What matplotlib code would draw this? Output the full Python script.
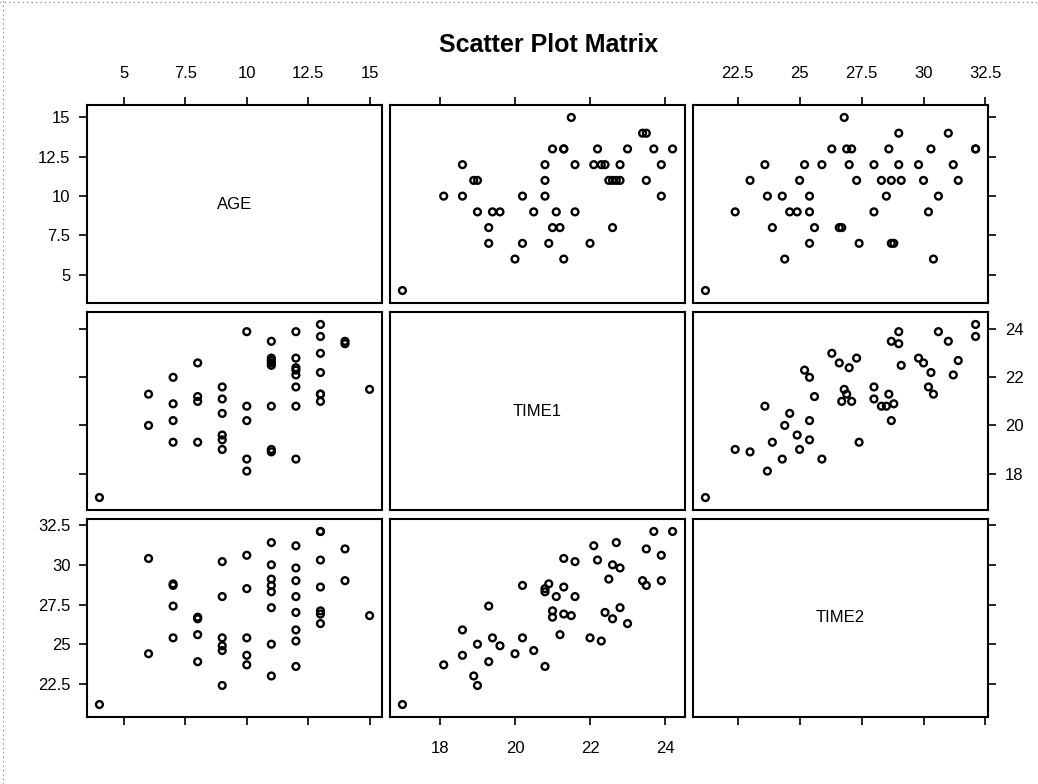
import numpy as np
import matplotlib
matplotlib.use('Agg')
import matplotlib.pyplot as plt
from matplotlib.lines import Line2D

plt.rcParams['font.family'] = ['Liberation Sans', 'DejaVu Sans']

# one row per subject: age, first and second measurement
age = [4,
       6, 6,
       7, 7, 7, 7,
       8, 8, 8, 8,
       9, 9, 9, 9, 9, 9,
       10, 10, 10, 10, 10,
       11, 11, 11, 11, 11, 11, 11, 11,
       12, 12, 12, 12, 12, 12, 12, 12,
       13, 13, 13, 13, 13, 13, 13,
       14, 14,
       15]
time1 = [17.0,
         21.3, 20.0,
         22.0, 20.9, 20.2, 19.3,
         22.6, 21.0, 21.2, 19.3,
         21.6, 21.1, 20.5, 19.6, 19.4, 19.0,
         23.9, 20.8, 20.2, 18.6, 18.1,
         18.9, 19.0, 20.8, 22.5, 22.6, 22.7, 22.8, 23.5,
         23.9, 22.8, 22.4, 22.1, 22.3, 21.6, 20.8, 18.6,
         24.2, 23.7, 23.0, 22.2, 21.3, 21.0, 21.3,
         23.5, 23.4,
         21.5]
time2 = [21.2,
         30.4, 24.4,
         25.4, 28.8, 28.7, 27.4,
         26.6, 26.7, 25.6, 23.9,
         30.2, 28.0, 24.6, 24.9, 25.4, 22.4,
         30.6, 28.5, 25.4, 24.3, 23.7,
         23.0, 25.0, 28.3, 29.1, 30.0, 31.4, 27.3, 28.7,
         29.0, 29.8, 27.0, 31.2, 25.2, 28.0, 23.6, 25.9,
         32.1, 32.1, 26.3, 30.3, 28.6, 27.1, 26.9,
         31.0, 29.0,
         26.8]

names = ['AGE', 'TIME1', 'TIME2']
data = [np.array(age), np.array(time1), np.array(time2)]
ticks = [[5, 7.5, 10, 12.5, 15], [18, 20, 22, 24], [22.5, 25, 27.5, 30, 32.5]]
ticklabels = [['5', '7.5', '10', '12.5', '15'], ['18', '20', '22', '24'],
              ['22.5', '25', '27.5', '30', '32.5']]

W, H = 1038, 784
fig = plt.figure(figsize=(W / 100, H / 100), dpi=100)
fig.patch.set_facecolor('white')

left, top = 87, 105
pw, ph = 295, 198
gx, gy = 8, 9


def limits(v, frac):
    lo, hi = v.min(), v.max()
    pad = (hi - lo) * frac
    return lo - pad, hi + pad


for i in range(3):        # row -> y variable
    for j in range(3):    # column -> x variable
        x0 = left + j * (pw + gx)
        y0 = top + i * (ph + gy)
        ax = fig.add_axes([x0 / W, 1 - (y0 + ph) / H, pw / W, ph / H])
        for s in ax.spines.values():
            s.set_linewidth(1.5)
            s.set_color('black')
        ax.set_xlim(limits(data[j], 0.046))
        ax.set_ylim(limits(data[i], 0.072))

        if i == j:
            ax.text(0.5, 0.5, names[i], transform=ax.transAxes,
                    ha='center', va='center', fontsize=12)
        else:
            ax.scatter(data[j], data[i], s=24, facecolors='none',
                       edgecolors='black', linewidths=1.7, zorder=3)

        # ticks only on the outer edges, labels alternate sides
        ax.set_xticks(ticks[j])
        ax.set_xticklabels(ticklabels[j])
        ax.set_yticks(ticks[i])
        ax.set_yticklabels(ticklabels[i])
        ax.tick_params(axis='both', direction='out', length=6, width=1.2,
                       labelsize=12, colors='black')
        ax.tick_params(axis='x', top=(i == 0), bottom=(i == 2),
                       labeltop=(i == 0 and j != 1),
                       labelbottom=(i == 2 and j == 1), pad=11)
        ax.tick_params(axis='y', left=(j == 0), right=(j == 2),
                       labelleft=(j == 0 and i != 1),
                       labelright=(j == 2 and i == 1), pad=6)

fig.text(0.528, 1 - 45 / H, 'Scatter Plot Matrix', ha='center', va='center',
         fontsize=18, fontweight='bold')

# faint dotted page edges
fig.add_artist(Line2D([0, 1], [1 - 2 / H, 1 - 2 / H], color='0.45',
                      lw=0.8, ls=(0, (1, 3))))
fig.add_artist(Line2D([3 / W, 3 / W], [0, 1], color='0.45',
                      lw=0.8, ls=(0, (1, 3))))

fig.savefig('out.png', dpi=100, facecolor='white')
